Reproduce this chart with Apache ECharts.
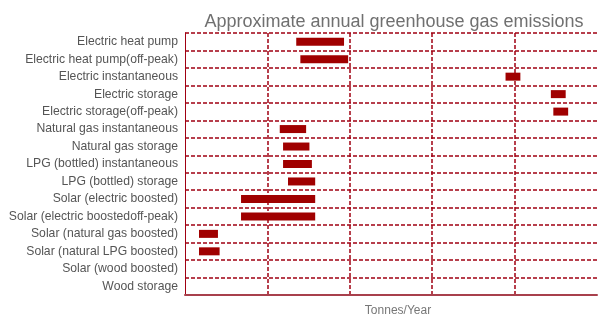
<!DOCTYPE html>
<html>
<head>
<meta charset="utf-8">
<script src="https://cdn.jsdelivr.net/npm/echarts@6/dist/echarts.min.js"></script>
<style>
  html, body { margin: 0; padding: 0; background: #fff; }
  #chart { width: 603px; height: 328px; }
</style>
</head>
<body>
<div id="chart"></div>
<script>
// Hot water system types
var systems = [
  'Electric heat pump',
  'Electric heat pump(off-peak)',
  'Electric instantaneous',
  'Electric storage',
  'Electric storage(off-peak)',
  'Natural gas instantaneous',
  'Natural gas storage',
  'LPG (bottled) instantaneous',
  'LPG (bottled) storage',
  'Solar (electric boosted)',
  'Solar (electric boostedoff-peak)',
  'Solar (natural gas boosted)',
  'Solar (natural LPG boosted)',
  'Solar (wood boosted)',
  'Wood storage'
];

// Emission range per system, tonnes per year (null = no estimate)
var lowEmissions  = [1.35, 1.40, 3.89, 4.44, 4.47, 1.15, 1.19, 1.19, 1.25, 0.68, 0.68, 0.17, 0.17, null, null];
var highEmissions = [1.93, 1.98, 4.07, 4.62, 4.65, 1.47, 1.51, 1.54, 1.58, 1.58, 1.58, 0.40, 0.42, null, null];

var rangeLengths = lowEmissions.map(function (lo, i) {
  return lo == null ? null : +(highEmissions[i] - lo).toFixed(2);
});

var darkRed = '#a00012';
var chart = echarts.init(document.getElementById('chart'), null, { renderer: 'canvas' });

chart.setOption({
  animation: false,
  backgroundColor: '#ffffff',
  title: {
    text: 'Approximate annual greenhouse gas emissions',
    left: 389,
    textAlign: 'center',
    top: 8,
    textStyle: {
      fontFamily: 'Liberation Sans, Arial, sans-serif',
      fontSize: 18,
      fontWeight: 'normal',
      color: '#707070'
    }
  },
  grid: { left: 185, right: 6, top: 33, bottom: 33, containLabel: false },
  xAxis: {
    type: 'value',
    min: 0,
    max: 5,
    interval: 1,
    name: 'Tonnes/Year',
    nameLocation: 'middle',
    nameGap: 10,
    nameTextStyle: {
      fontFamily: 'Liberation Sans, Arial, sans-serif',
      fontSize: 12,
      color: '#777',
      padding: [0, 0, 0, 14]
    },
    axisLabel: { show: false },
    axisTick: { show: false },
    axisLine: { show: true, lineStyle: { color: '#a8404c', width: 2 } },
    splitLine: {
      show: true,
      showMinLine: false,
      showMaxLine: false,
      lineStyle: { color: darkRed, width: 1.5, type: [4, 2] }
    }
  },
  yAxis: {
    type: 'category',
    data: systems,
    inverse: true,
    axisTick: { show: false },
    axisLine: { show: true, lineStyle: { color: darkRed, width: 1 } },
    axisLabel: {
      interval: 0,
      margin: 7,
      fontFamily: 'Liberation Sans, Arial, sans-serif',
      fontSize: 12.2,
      color: '#555'
    },
    splitLine: {
      show: true,
      interval: 0,
      lineStyle: { color: darkRed, width: 1.5, type: [4, 2] }
    }
  },
  series: [
    {
      name: 'base',
      type: 'bar',
      stack: 'range',
      data: lowEmissions,
      itemStyle: { color: 'transparent' },
      barWidth: 8,
      silent: true
    },
    {
      name: 'range',
      type: 'bar',
      stack: 'range',
      data: rangeLengths,
      itemStyle: { color: '#a00000' },
      barWidth: 8
    }
  ]
});
</script>
</body>
</html>
